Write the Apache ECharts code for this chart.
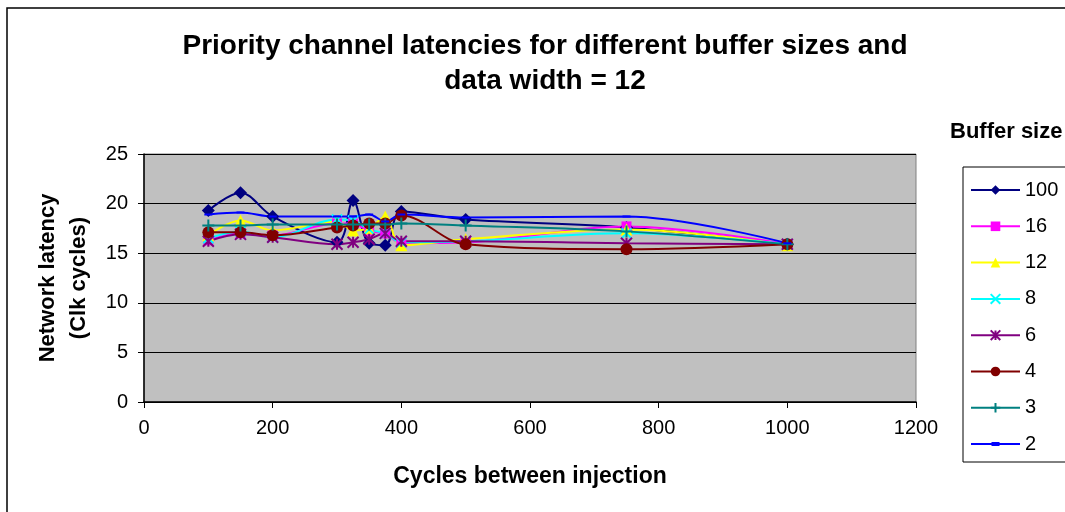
<!DOCTYPE html>
<html>
<head>
<meta charset="utf-8">
<script src="https://cdn.jsdelivr.net/npm/echarts@6/dist/echarts.min.js"></script>
<style>
html,body{margin:0;padding:0;background:#fff;}
#c{width:1065px;height:512px;}
</style>
</head>
<body>
<div id="c"></div>
<script>
const xValues = [100, 150, 200, 300, 325, 350, 375, 400, 500, 750, 1000];
const seriesNames = ['100', '16', '12', '8', '6', '4', '3', '2'];
const buf100 = [19.3, 21.1, 18.7, 16.1, 20.3, 16.0, 15.8, 19.2, 18.4, 17.6, 15.9];
const buf16  = [16.3, 17.0, 16.8, 18.0, 18.0, 17.2, 17.0, 16.0, 16.1, 17.7, 15.9];
const buf12  = [16.8, 18.3, 17.3, 18.2, 17.3, 17.5, 18.7, 15.8, 16.4, 17.4, 15.8];
const buf8   = [16.5, 17.2, 16.6, 18.4, 18.3, 17.4, 17.0, 16.1, 16.2, 17.0, 15.9];
const buf6   = [16.2, 16.9, 16.6, 15.9, 16.1, 16.4, 17.0, 16.2, 16.2, 16.0, 15.9];
const buf4   = [17.1, 17.1, 16.8, 17.6, 17.8, 18.0, 18.0, 18.8, 15.9, 15.4, 15.9];
const buf3   = [17.8, 17.8, 17.9, 17.9, 17.9, 17.9, 17.9, 18.0, 17.8, 17.2, 15.9];
const buf2   = [18.9, 19.1, 18.7, 18.7, 18.7, 18.9, 18.2, 18.9, 18.6, 18.7, 16.0];
const xTicks = [0, 200, 400, 600, 800, 1000, 1200];
const yTicks = [0, 5, 10, 15, 20, 25];

const values = [buf100, buf16, buf12, buf8, buf6, buf4, buf3, buf2];
const colors = ['#000080', '#FF00FF', '#FFFF00', '#00FFFF', '#800080', '#800000', '#008080', '#0000FF'];
const symbols = [
  'diamond',
  'rect',
  'triangle',
  'path://M0,0L10,10M10,0L0,10',
  'path://M5,0L5,10M0,0L10,10M10,0L0,10',
  'circle',
  'path://M5,0L5,10M0,5L10,5',
  'path://M0,0L8,0L8,4L0,4Z'
];
const symSizes = [13, 10, 12, 10, 11, 12, 12, [8, 4]];
const strokeSym = [false, false, false, true, true, false, true, false];

const chart = echarts.init(document.getElementById('c'), null, {renderer: 'canvas'});
const FONT = '"Liberation Sans", Arial, sans-serif';

const series = seriesNames.map((n, i) => ({
  name: n,
  type: 'line',
  smooth: 0.35,
  data: xValues.map((x, j) => [x, values[i][j]]),
  symbol: symbols[i],
  symbolSize: symSizes[i],
  symbolKeepAspect: true,
  showSymbol: true,
  lineStyle: {color: colors[i], width: 2},
  itemStyle: strokeSym[i]
    ? {color: colors[i], borderColor: colors[i], borderWidth: 2}
    : {color: colors[i], borderWidth: 0},
  emphasis: {disabled: true},
  animation: false
}));

const legendData = seriesNames.map(n => n === '2'
  ? {name: n, icon: 'path://M0,0L0.01,0L0,0.01Z M0,5L49,5L49,7L0,7Z M20.5,4L28.5,4L28.5,8L20.5,8Z M49,12L48.99,12L49,11.99Z'}
  : {name: n});

chart.setOption({
  animation: false,
  backgroundColor: '#ffffff',
  textStyle: {fontFamily: FONT},
  title: {
    text: 'Priority channel latencies for different buffer sizes and\ndata width = 12',
    left: 540,
    textAlign: 'center',
    top: 24,
    textStyle: {fontFamily: FONT, fontSize: 28, fontWeight: 'bold', color: '#000', lineHeight: 35}
  },
  graphic: [
    {type: 'rect', shape: {x: 7, y: 8, width: 1100, height: 600}, style: {fill: 'none', stroke: '#000', lineWidth: 1.5}, z: 100},
    {type: 'rect', shape: {x: 963, y: 167, width: 130, height: 295}, style: {fill: '#fff', stroke: '#000', lineWidth: 1}, z: 0},
    {type: 'text', left: 950, top: 121, style: {text: 'Buffer size', font: 'bold 22px ' + FONT, fill: '#000'}, z: 10}
  ],
  legend: {
    orient: 'vertical',
    left: 970,
    top: 179,
    padding: 0,
    itemWidth: 49,
    itemHeight: 12,
    itemGap: 14.3,
    data: legendData,
    textStyle: {fontFamily: FONT, fontSize: 20, color: '#000', lineHeight: 22, padding: [0, 0, 0, 0]},
    z: 5
  },
  grid: {
    left: 144, right: 149, top: 154, bottom: 110,
    show: true, backgroundColor: '#C0C0C0', borderColor: '#808080', borderWidth: 1,
    containLabel: false,
    outerBoundsMode: 'none'
  },
  xAxis: {
    type: 'value',
    min: 0, max: 1200, interval: 200,
    name: 'Cycles between injection',
    nameLocation: 'middle',
    nameGap: 63,
    nameTextStyle: {fontFamily: FONT, fontSize: 23, fontWeight: 'bold', color: '#000'},
    axisLine: {show: true, lineStyle: {color: '#000', width: 1.5}},
    axisTick: {show: true, length: 6, inside: false, lineStyle: {color: '#000'}},
    axisLabel: {fontFamily: FONT, fontSize: 20, color: '#000', margin: 16,
      formatter: v => xTicks.includes(v) ? String(v) : ''},
    splitLine: {show: false}
  },
  yAxis: {
    type: 'value',
    min: 0, max: 25, interval: 5,
    name: 'Network latency\n(Clk cycles)',
    nameLocation: 'middle',
    nameRotate: 90,
    nameGap: 50,
    nameTextStyle: {fontFamily: FONT, fontSize: 22, fontWeight: 'bold', color: '#000', lineHeight: 31},
    axisLine: {show: true, lineStyle: {color: '#000', width: 1.5}},
    axisTick: {show: true, length: 6, inside: false, lineStyle: {color: '#000'}},
    axisLabel: {fontFamily: FONT, fontSize: 20, color: '#000', margin: 16,
      formatter: v => yTicks.includes(v) ? String(v) : ''},
    splitLine: {show: true, lineStyle: {color: '#000', width: 1}}
  },
  series: series
});
</script>
</body>
</html>
